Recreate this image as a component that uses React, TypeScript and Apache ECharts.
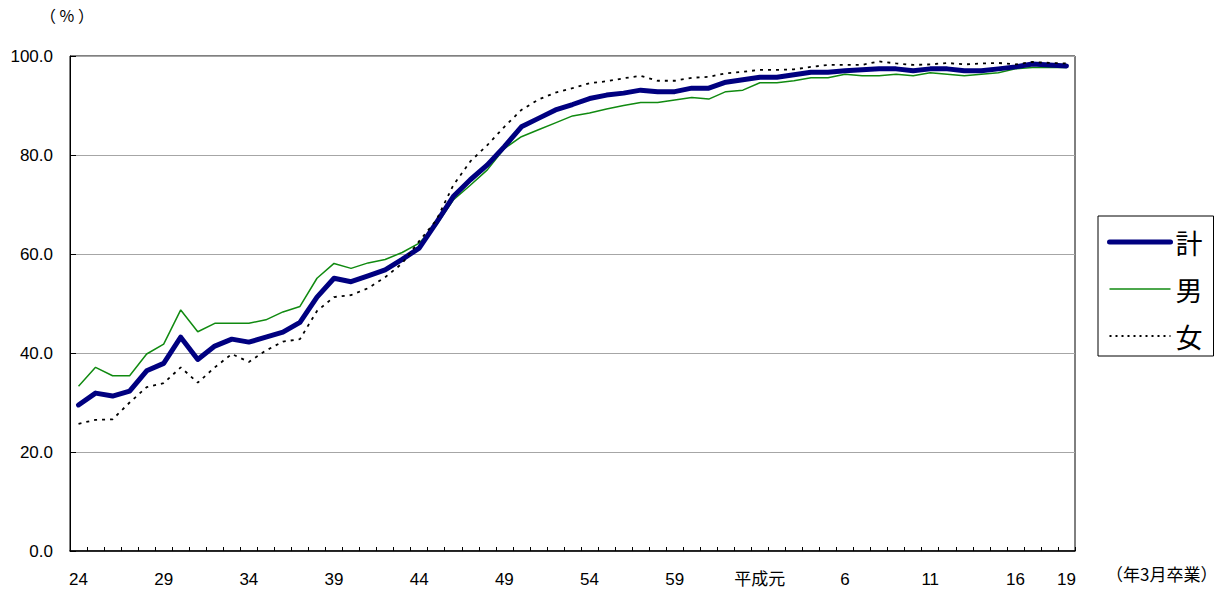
import React, { useEffect, useRef } from "react";
import * as echarts from "echarts";

const showaYears: string[] = [
  "24", "25", "26", "27", "28", "29", "30", "31", "32", "33",
  "34", "35", "36", "37", "38", "39", "40", "41", "42", "43",
  "44", "45", "46", "47", "48", "49", "50", "51", "52", "53",
  "54", "55", "56", "57", "58", "59", "60", "61", "62", "63",
];
const heiseiYears: string[] = [
  "平成元", "2", "3", "4", "5", "6", "7", "8", "9", "10",
  "11", "12", "13", "14", "15", "16", "17", "18", "19",
];
const categories: string[] = [...showaYears, ...heiseiYears];

const totalRate: number[] = [
  29.5, 31.9, 31.3, 32.3, 36.4, 37.9, 43.2, 38.7, 41.4, 42.8,
  42.2, 43.2, 44.2, 46.2, 51.3, 55.1, 54.4, 55.6, 56.8, 58.9,
  61.2, 66.3, 71.6, 75.0, 78.0, 81.7, 85.7, 87.4, 89.1, 90.2,
  91.4, 92.1, 92.5, 93.1, 92.8, 92.8, 93.5, 93.5, 94.7, 95.2,
  95.7, 95.7, 96.2, 96.7, 96.7, 97.0, 97.2, 97.4, 97.4, 97.0,
  97.4, 97.4, 97.0, 97.0, 97.4, 97.8, 98.4, 98.2, 98.0,
];
const maleRate: number[] = [
  33.3, 37.1, 35.4, 35.4, 39.8, 41.8, 48.7, 44.3, 46.0, 46.0,
  46.0, 46.7, 48.3, 49.4, 55.1, 58.1, 57.1, 58.2, 58.9, 60.3,
  62.2, 65.8, 70.9, 73.9, 77.0, 81.3, 83.7, 85.1, 86.5, 87.9,
  88.5, 89.3, 90.0, 90.6, 90.6, 91.1, 91.6, 91.3, 92.8, 93.1,
  94.6, 94.6, 95.0, 95.6, 95.6, 96.3, 96.0, 96.0, 96.3, 96.0,
  96.6, 96.3, 96.0, 96.3, 96.6, 97.4, 97.7, 97.7, 97.7,
];
const femaleRate: number[] = [
  25.7, 26.5, 26.6, 30.0, 33.1, 33.9, 37.1, 34.0, 37.1, 39.8,
  38.2, 40.5, 42.3, 42.8, 48.5, 51.3, 51.7, 53.1, 55.3, 58.1,
  62.6, 66.8, 73.9, 78.7, 82.0, 85.7, 89.1, 91.2, 92.6, 93.5,
  94.5, 94.9, 95.5, 96.0, 95.0, 95.0, 95.6, 95.8, 96.5, 96.8,
  97.2, 97.2, 97.3, 97.8, 98.2, 98.2, 98.2, 98.9, 98.5, 98.2,
  98.3, 98.6, 98.3, 98.5, 98.6, 98.3, 98.8, 98.6, 98.5,
];
const seriesNames: string[] = ["計", "男", "女"];
const yTicks: number[] = [0, 20, 40, 60, 80, 100];
const unitLabel = "（ % ）";
const xUnitLabel = "（年3月卒業）";

const FONT = "'Liberation Sans Narrow', 'Liberation Sans', 'Noto Sans CJK JP', sans-serif";
const CJK = "'Noto Sans CJK JP', sans-serif";

const NAVY = "#000080";
const GREEN = "#108a10";
const BLACK = "#000000";

export default function App() {
  const ref = useRef<HTMLDivElement>(null);
  useEffect(() => {
    if (!ref.current) return;
    const chart = echarts.init(ref.current, undefined, { renderer: "svg" });
    const lastIdx = categories.length - 1;
    chart.setOption({
      animation: false,
      backgroundColor: "#ffffff",
      grid: {
        left: 70,
        right: 156,
        top: 56,
        bottom: 39,
        show: true,
        borderColor: "#000",
        borderWidth: 1,
        containLabel: false,
      },
      legend: {
        orient: "vertical",
        left: 1098,
        top: 216,
        width: 116,
        data: [
          { name: seriesNames[0], lineStyle: { width: 5, cap: "round", color: NAVY } },
          { name: seriesNames[1], lineStyle: { width: 1.5, color: GREEN } },
          { name: seriesNames[2], lineStyle: { width: 1.8, type: [2, 4], color: BLACK } },
        ],
        itemWidth: 61,
        itemHeight: 14,
        itemGap: 19,
        padding: [12, 11, 6, 9],
        borderColor: "#000",
        borderWidth: 1,
        backgroundColor: "#fff",
        textStyle: { fontSize: 27, fontFamily: CJK, color: "#000", lineHeight: 28 },
        itemStyle: { opacity: 0 },
      },
      xAxis: {
        type: "category",
        data: categories,
        boundaryGap: true,
        axisLine: { lineStyle: { color: "#000", width: 1.5 } },
        axisTick: { show: true, inside: true, length: 4, interval: 0, lineStyle: { color: "#000" } },
        axisLabel: {
          interval: (idx: number) => idx % 5 === 0 || idx === lastIdx,
          fontSize: 17,
          fontFamily: FONT,
          color: "#000",
          margin: 20,
        },
        splitLine: { show: false },
      },
      yAxis: {
        type: "value",
        min: yTicks[0],
        max: yTicks[yTicks.length - 1],
        interval: 20,
        axisLine: { show: true, lineStyle: { color: "#000", width: 1 } },
        axisTick: { show: true, inside: true, length: 6, lineStyle: { color: "#000" } },
        axisLabel: {
          formatter: (v: number) => v.toFixed(1),
          fontSize: 17,
          fontFamily: FONT,
          color: "#000",
          margin: 17,
        },
        splitLine: { show: true, lineStyle: { color: "#a6a6a6", width: 1 } },
      },
      series: [
        {
          name: seriesNames[0],
          type: "line",
          data: totalRate,
          symbol: "none",
          z: 3,
          lineStyle: { color: NAVY, width: 5, cap: "round", join: "round" },
          itemStyle: { color: NAVY },
        },
        {
          name: seriesNames[1],
          type: "line",
          data: maleRate,
          symbol: "none",
          z: 2,
          lineStyle: { color: GREEN, width: 1.5 },
          itemStyle: { color: GREEN },
        },
        {
          name: seriesNames[2],
          type: "line",
          data: femaleRate,
          symbol: "none",
          z: 4,
          lineStyle: { color: BLACK, width: 1.8, type: [3, 5] },
          itemStyle: { color: BLACK },
        },
      ],
      graphic: [
        {
          type: "text",
          left: 40,
          top: 7,
          style: { text: unitLabel, fontSize: 16, fontFamily: CJK, fill: "#000" },
        },
        {
          type: "text",
          left: 1106,
          top: 565,
          style: { text: xUnitLabel, fontSize: 17, fontFamily: CJK, fill: "#000" },
        },
      ],
    });
    return () => chart.dispose();
  }, []);
  return (
    <div
      ref={ref}
      style={{ position: "absolute", left: 0, top: 0, width: 1231, height: 590 }}
    />
  );
}
